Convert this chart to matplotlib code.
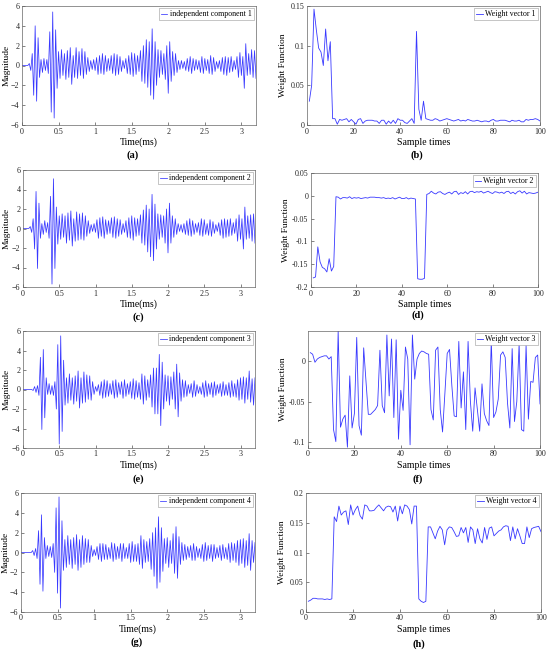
import numpy as np
import matplotlib
matplotlib.use("Agg")
import matplotlib.pyplot as plt
from matplotlib.ticker import FuncFormatter

plt.rcParams['font.family'] = ['Liberation Serif', 'DejaVu Serif']

# ---- data ----
# independent components: signed peak values every 0.02 ms, 0 .. 3.2 ms
ic1 = [0, 0, 0, 0, 0, 0.2, -0.5, 1.2, -3.0, 4.0,
       -3.6, 2.8, -1.2, 0.6, -0.7, 0.7, -0.5, 0.6, -0.8, 3.4,
       -4.7, 5.4, -5.3, 3.6, -2.3, 1.4, -1.3, 1.6, -1.0, 1.2,
       -1.4, 1.5, -1.2, 1.8, -1.9, 1.0, -1.2, 1.8, -1.3, 1.4,
       -1.0, 1.7, -1.3, 1.4, -0.9, 0.8, -0.6, 0.5, -0.4, 0.6,
       -0.5, 0.8, -0.9, 1.0, -0.8, 1.2, -0.9, 1.0, -0.6, 0.7,
       -0.5, 1.0, -0.8, 1.2, -1.0, 1.1, -0.9, 0.9, -0.6, 0.5,
       -0.3, 0.7, -0.8, 1.0, -0.9, 1.3, -1.1, 1.2, -0.9, 1.0,
       -0.6, 1.5, -1.6, 2.0, -1.8, 2.6, -2.2, 2.4, -3.0, 3.7,
       -3.4, 2.4, -2.0, 1.6, -1.2, 1.5, -0.9, 1.2, -1.4, 2.0,
       -2.8, 2.4, -1.6, 1.4, -1.0, 1.2, -0.7, 0.5, -0.4, 0.5,
       -0.3, 0.4, -0.5, 0.7, -0.6, 0.9, -0.8, 0.7, -0.5, 0.6,
       -0.4, 0.5, -0.7, 0.9, -0.8, 0.7, -0.5, 0.6, -0.8, 1.0,
       -0.9, 0.8, -0.6, 0.4, -0.3, 0.5, -0.6, 0.8, -0.9, 0.9,
       -1.0, 0.8, -0.7, 0.9, -0.6, 0.5, -0.4, 0.9, -1.2, 1.3,
       -1.0, 0.9, -2.3, 2.2, -1.0, 1.2, -0.9, 1.6, -1.2, 1.5,
       -1.3]
ic2 = [0, 0, 0, 0, 0, 0.2, -0.4, 1.0, -2.1, 3.8,
       -4.1, 2.6, -1.0, 0.5, -0.6, 0.8, -0.4, 0.6, -1.0, 3.3,
       -5.7, 5.1, -4.1, 2.2, -1.6, 1.3, -1.1, 1.5, -0.9, 1.3,
       -1.5, 1.6, -1.2, 1.8, -1.8, 1.0, -1.3, 1.7, -1.2, 1.5,
       -1.1, 1.6, -1.2, 1.3, -0.8, 0.8, -0.5, 0.4, -0.3, 0.5,
       -0.4, 0.9, -1.0, 1.1, -0.8, 1.2, -1.0, 0.9, -0.6, 0.8,
       -0.5, 1.1, -0.9, 1.2, -1.0, 1.0, -0.8, 0.9, -0.6, 0.5,
       -0.4, 0.8, -0.9, 1.1, -1.0, 1.3, -1.2, 1.1, -0.8, 1.0,
       -0.7, 1.4, -1.5, 1.9, -1.7, 2.4, -2.4, 2.0, -2.9, 3.5,
       -3.3, 2.5, -2.1, 1.5, -1.1, 1.4, -0.9, 1.3, -1.5, 2.0,
       -2.5, 2.6, -1.5, 1.3, -0.9, 1.0, -0.6, 0.5, -0.3, 0.4,
       -0.4, 0.5, -0.6, 0.8, -0.7, 1.0, -0.8, 0.8, -0.6, 0.5,
       -0.4, 0.6, -0.7, 1.0, -0.8, 0.9, -0.6, 0.5, -0.7, 0.9,
       -0.8, 0.7, -0.5, 0.4, -0.3, 0.6, -0.7, 0.9, -1.0, 1.0,
       -0.9, 0.9, -0.8, 1.0, -0.7, 0.6, -0.5, 1.0, -1.3, 1.4,
       -1.1, 1.0, -2.1, 2.2, -1.1, 1.3, -1.0, 1.4, -1.3, 1.5,
       -1.5]
ic3 = [0, 0, 0, 0, 0, 0, 0, -0.1, 0.3, -0.3,
       0.4, -0.6, 3.3, -4.1, 4.1, -2.9, 1.2, -0.5, 0.6, -0.5,
       0.4, -0.6, 0.8, -2.0, 4.6, -5.6, 5.5, -4.3, 3.0, -1.6,
       1.2, -1.4, 1.6, -1.1, 1.2, -1.5, 1.4, -1.2, 1.9, -1.9,
       1.2, -1.4, 1.8, -1.3, 1.5, -1.0, 1.4, -1.1, 0.8, -0.5,
       0.3, -0.2, 0.5, -0.6, 0.8, -0.9, 1.0, -0.8, 0.9, -0.7,
       0.6, -0.5, 0.9, -0.9, 1.0, -0.8, 0.7, -0.5, 0.8, -0.9,
       1.0, -0.7, 0.6, -0.5, 0.8, -0.9, 1.1, -1.0, 0.9, -0.8,
       0.7, -1.0, 1.6, -1.5, 1.4, -1.1, 1.0, -0.8, 1.5, -1.8,
       2.2, -2.5, 2.2, -2.5, 3.6, -3.7, 2.8, -2.0, 1.5, -1.2,
       1.4, -1.6, 1.3, -1.0, 1.8, -2.0, 2.6, -2.8, 1.7, -1.2,
       1.0, -0.8, 0.9, -0.7, 0.5, -0.4, 0.6, -0.8, 0.9, -0.7,
       0.5, -0.4, 0.3, -0.5, 0.7, -0.8, 0.9, -0.7, 0.6, -0.5,
       0.7, -0.8, 0.8, -0.6, 0.5, -0.4, 0.6, -0.7, 0.8, -0.6,
       0.5, -0.6, 0.7, -0.8, 0.9, -0.7, 0.6, -0.8, 1.0, -1.1,
       1.2, -1.0, 1.3, -1.4, 1.2, -1.0, 1.9, -1.3, 1.1, -1.6,
       1.2]
ic4 = [0, 0, 0, 0, 0, 0, 0, 0, 0.2, -0.3,
       0.4, -0.6, 2.2, -3.2, 3.8, -3.9, 1.5, -0.6, 0.7, -0.4,
       0.6, -0.5, 0.9, -2.0, 4.5, -4.1, 5.6, -5.6, 3.2, -1.8,
       1.3, -1.5, 1.7, -1.2, 1.3, -1.6, 1.5, -1.2, 1.8, -1.8,
       1.3, -1.5, 1.7, -1.2, 1.4, -1.0, 1.3, -1.0, 0.7, -0.4,
       0.3, -0.3, 0.6, -0.7, 0.9, -0.9, 0.9, -0.7, 0.8, -0.7,
       0.5, -0.6, 1.0, -0.9, 0.9, -0.7, 0.6, -0.6, 0.9, -0.9,
       0.9, -0.6, 0.5, -0.6, 0.9, -1.0, 1.1, -0.9, 0.8, -0.9,
       0.9, -1.2, 1.7, -1.6, 1.3, -1.0, 1.1, -0.9, 1.4, -1.7,
       2.0, -2.4, 2.5, -3.6, 3.6, -3.0, 2.5, -1.9, 1.4, -1.1,
       1.5, -1.5, 1.2, -1.1, 1.9, -2.1, 2.6, -2.6, 1.6, -1.2,
       1.0, -0.8, 0.8, -0.7, 0.6, -0.5, 0.7, -0.8, 0.9, -0.8,
       0.6, -0.5, 0.4, -0.6, 0.8, -0.9, 1.0, -0.8, 0.7, -0.6,
       0.8, -0.9, 0.8, -0.6, 0.5, -0.5, 0.7, -0.8, 0.8, -0.6,
       0.5, -0.7, 0.9, -1.0, 1.0, -0.8, 0.9, -1.0, 1.2, -1.3,
       1.3, -1.1, 1.4, -1.5, 1.2, -1.3, 1.9, -1.8, 1.2, -1.0,
       1.0]

# weight vectors, samples 1 .. 100
w1 = [0.030, 0.050, 0.146, 0.120, 0.097, 0.092, 0.075, 0.121, 0.081, 0.105,
      0.008, 0.008, 0.001, 0.007, 0.006, 0.007, 0.008, 0.004, 0.007, 0.004,
      0.001, 0.007, 0.008, 0.002, 0.005, 0.006, 0.006, 0.006, 0.005, 0.005,
      0.002, 0.006, 0.006, 0.001, 0.005, 0.002, 0.006, 0.002, 0.008, 0.006,
      0.006, 0.003, 0.002, 0.005, 0.008, 0.002, 0.118, 0.020, 0.006, 0.030,
      0.008, 0.007, 0.006, 0.006, 0.008, 0.007, 0.005, 0.006, 0.007, 0.008,
      0.007, 0.006, 0.005, 0.006, 0.007, 0.005, 0.006, 0.005, 0.007, 0.006,
      0.005, 0.005, 0.006, 0.005, 0.004, 0.005, 0.005, 0.004, 0.006, 0.007,
      0.005, 0.005, 0.006, 0.006, 0.006, 0.005, 0.004, 0.006, 0.005, 0.005,
      0.006, 0.004, 0.004, 0.007, 0.006, 0.007, 0.007, 0.008, 0.007, 0.005]
w2 = [-0.180, -0.178, -0.112, -0.145, -0.157, -0.160, -0.167, -0.138, -0.165, -0.155,
      -0.002, -0.003, -0.007, -0.004, -0.004, -0.005, -0.002, -0.006, -0.004, -0.005,
      -0.004, -0.006, -0.005, -0.004, -0.005, -0.003, -0.003, -0.003, -0.004, -0.004,
      -0.005, -0.004, -0.006, -0.005, -0.006, -0.004, -0.007, -0.005, -0.003, -0.006,
      -0.006, -0.004, -0.007, -0.005, -0.006, -0.007, -0.182, -0.183, -0.183, -0.181,
      0.003, 0.005, 0.010, 0.006, 0.004, 0.008, 0.009, 0.005, 0.003, 0.006,
      0.008, 0.004, 0.009, 0.010, 0.003, 0.007, 0.005, 0.009, 0.004, 0.009,
      0.010, 0.007, 0.009, 0.008, 0.010, 0.006, 0.008, 0.010, 0.007, 0.005,
      0.009, 0.008, 0.006, 0.008, 0.005, 0.009, 0.010, 0.005, 0.008, 0.004,
      0.009, 0.011, 0.006, 0.010, 0.004, 0.007, 0.006, 0.005, 0.006, 0.008]
w3 = [0.011, 0.009, -0.001, 0.003, 0.005, 0.006, 0.007, 0.007, 0.003, 0.006,
      -0.085, -0.100, 0.038, -0.082, -0.072, -0.067, -0.107, -0.018, -0.083, -0.065,
      0.030, -0.080, -0.092, 0.017, -0.025, -0.066, -0.066, -0.063, -0.060, -0.055,
      0.014, -0.055, -0.064, 0.033, -0.043, 0.028, -0.070, 0.027, -0.097, -0.036,
      -0.061, 0.018, 0.003, -0.104, 0.033, -0.022, 0.003, 0.010, 0.013, 0.012,
      0.010, 0.009, -0.060, -0.073, 0.014, 0.018, -0.060, -0.088, -0.040, 0.010,
      0.015, -0.030, -0.068, -0.069, 0.025, -0.058, -0.013, -0.085, 0.025, -0.050,
      -0.087, -0.033, -0.060, -0.087, -0.028, -0.065, -0.074, -0.080, 0.026, -0.070,
      -0.063, -0.047, 0.008, 0.012, 0.005, -0.052, -0.083, 0.016, -0.075, -0.050,
      0.022, -0.085, -0.087, 0.020, -0.072, -0.025, -0.026, 0.005, 0.008, -0.053]
w4 = [0.018, 0.020, 0.023, 0.023, 0.022, 0.022, 0.022, 0.021, 0.022, 0.021,
      0.022, 0.160, 0.152, 0.178, 0.163, 0.168, 0.170, 0.147, 0.180, 0.163,
      0.172, 0.178, 0.162, 0.156, 0.180, 0.178, 0.170, 0.170, 0.171, 0.176,
      0.180, 0.175, 0.170, 0.176, 0.178, 0.177, 0.168, 0.178, 0.153, 0.178,
      0.165, 0.180, 0.178, 0.172, 0.148, 0.178, 0.178, 0.022, 0.018, 0.016,
      0.018, 0.143, 0.143, 0.133, 0.123, 0.136, 0.144, 0.138, 0.113, 0.138,
      0.143, 0.142, 0.135, 0.127, 0.128, 0.142, 0.133, 0.142, 0.117, 0.143,
      0.138, 0.115, 0.140, 0.123, 0.116, 0.142, 0.122, 0.141, 0.143, 0.128,
      0.132, 0.136, 0.138, 0.143, 0.145, 0.144, 0.120, 0.143, 0.123, 0.140,
      0.128, 0.115, 0.115, 0.143, 0.125, 0.140, 0.142, 0.143, 0.144, 0.135]

components = [ic1, ic2, ic3, ic4]
weights = [w1, w2, w3, w4]
weight_ylims = [(0, 0.15), (-0.2, 0.05), (-0.108, 0.038), (0, 0.2)]
weight_yticks = [[0, 0.05, 0.1, 0.15],
                 [-0.2, -0.15, -0.1, -0.05, 0, 0.05],
                 [-0.1, -0.05, 0],
                 [0, 0.05, 0.1, 0.15, 0.2]]
panel_tags = ['(a)', '(b)', '(c)', '(d)', '(e)', '(f)', '(g)', '(h)']

# pixel boxes (left, right, top, bottom) of each axes
left_boxes = [(22, 256, 6, 125), (23, 255, 170, 287), (23, 255, 331, 448), (21, 255, 493, 612)]
right_boxes = [(307, 540, 6, 125), (311, 538, 173, 287), (308, 540, 331, 448), (306, 541, 493, 612)]
tag_pos = [((133, 155), (417, 155)), ((138, 317), (418, 315)),
           ((138, 479), (418, 479)), ((137, 642), (419, 644))]
ylabel_x = [(6.5, 283), (7, 286), (7, 283), (6, 282)]

W, H = 550, 653
LINE = (0.22, 0.22, 1.0)


def make_axes(fig, box):
    l, r, t, b = box
    return fig.add_axes([l / W, 1 - b / H, (r - l) / W, (b - t) / H])


def style(ax):
    for s in ax.spines.values():
        s.set_color('0.4')
        s.set_linewidth(0.5)
    ax.tick_params(direction='in', length=2, width=0.4, labelsize=5.8,
                   colors='0.15', pad=1.8)


def add_legend(ax):
    leg = ax.legend(loc='upper right', fontsize=5.7, handlelength=0.8,
                    handletextpad=0.3, borderpad=0.25, borderaxespad=0.3,
                    fancybox=False, framealpha=1, edgecolor='0.6')
    leg.get_frame().set_linewidth(0.4)


def place_ylabel(ax, box, px):
    l, r = box[0], box[1]
    ax.yaxis.set_label_coords((px - l) / (r - l), 0.5)


num = FuncFormatter(lambda v, pos: f"{v:g}")

fig = plt.figure(figsize=(W / 100, H / 100), dpi=100)
time_ms = np.linspace(0, 3.2, len(ic1))
samples = np.arange(1, 101)

for k in range(4):
    ax = make_axes(fig, left_boxes[k])
    ax.plot(time_ms, components[k], color=LINE, lw=0.55,
            label=f'independent component {k + 1}')
    ax.set_xlim(0, 3.2)
    ax.set_ylim(-6, 6)
    ax.set_xticks([0, 0.5, 1, 1.5, 2, 2.5, 3])
    ax.set_yticks([-6, -4, -2, 0, 2, 4, 6])
    ax.xaxis.set_major_formatter(num)
    ax.set_xlabel('Time(ms)', fontsize=7, labelpad=1.5)
    ax.set_ylabel('Magnitude', fontsize=6.8, va='center')
    place_ylabel(ax, left_boxes[k], ylabel_x[k][0])
    style(ax)
    add_legend(ax)

    ax2 = make_axes(fig, right_boxes[k])
    ax2.plot(samples, weights[k], color=LINE, lw=0.6,
             label=f'Weight vector {k + 1}')
    ax2.set_xlim(0, 100)
    ax2.set_ylim(*weight_ylims[k])
    ax2.set_xticks([0, 20, 40, 60, 80, 100])
    ax2.set_yticks(weight_yticks[k])
    ax2.yaxis.set_major_formatter(num)
    ax2.set_xlabel('Sample times', fontsize=7, labelpad=1.5)
    ax2.set_ylabel('Weight Function', fontsize=6.8, va='center')
    place_ylabel(ax2, right_boxes[k], ylabel_x[k][1])
    style(ax2)
    add_legend(ax2)

    for (x, y), tag in zip(tag_pos[k], panel_tags[2 * k:2 * k + 2]):
        fig.text(x / W, 1 - y / H, tag, ha='center', va='center',
                 fontsize=7.5, fontweight='bold')

fig.savefig('out.png', dpi=100)
